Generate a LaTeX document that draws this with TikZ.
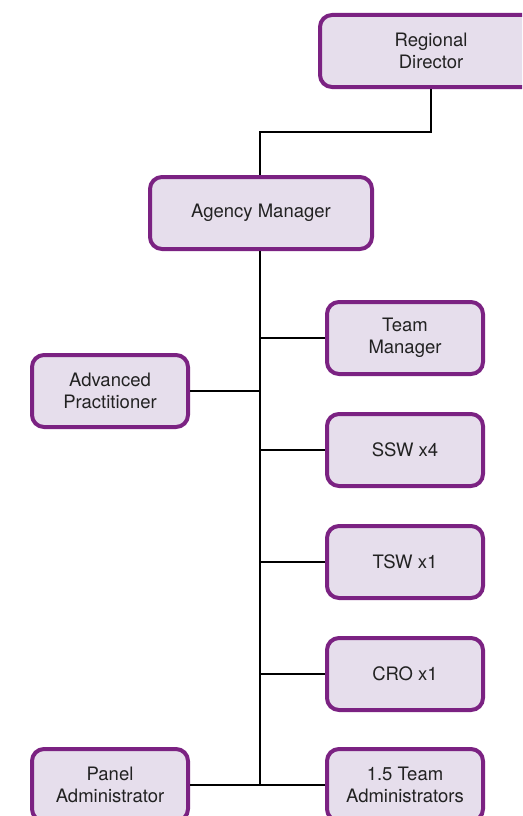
\documentclass[tikz,border=0pt]{standalone}
\usepackage{fontspec}
\setmainfont{TeX Gyre Heros}
\definecolor{boxborder}{HTML}{7B2282}
\definecolor{boxfill}{HTML}{E6DEEC}
\definecolor{txt}{HTML}{222222}
\begin{document}
\begin{tikzpicture}[x=1pt,y=1pt,
  orgbox/.style={draw=boxborder, fill=boxfill, line width=4pt, rounded corners=12pt,
    minimum height=72pt, align=center, text=txt, inner sep=0pt,
    font=\fontsize{18.5}{22}\selectfont},
  wide/.style={orgbox, minimum width=222pt},
  narrow/.style={orgbox, minimum width=156pt},
  conn/.style={line width=2pt, draw=black}]
\useasboundingbox (0,0) rectangle (522,-816);
\clip (0,0) rectangle (522,-816);
\node[wide] (rd) at (431,-51) {Regional\\Director};
\node[wide] (am) at (261,-213) {Agency Manager};
\node[narrow] (tm) at (405,-338) {Team\\Manager};
\node[narrow] (ap) at (110,-391) {Advanced\\Practitioner};
\node[narrow] (ssw) at (405,-450) {SSW x4};
\node[narrow] (tsw) at (405,-562) {TSW x1};
\node[narrow] (cro) at (405,-674) {CRO x1};
\node[narrow] (pa) at (110,-785) {Panel\\Administrator};
\node[narrow] (ta) at (405,-785) {1.5 Team\\Administrators};
\coordinate (j) at (260,-132);
\coordinate (bot) at (260,-785);
\draw[conn] (rd.south) |- (j) -- (j |- am.north);
\draw[conn] (j |- am.south) -- (bot);
\draw[conn] (tm.west) -- (tm.west -| j);
\draw[conn] (ap.east) -- (ap.east -| j);
\draw[conn] (ssw.west) -- (ssw.west -| j);
\draw[conn] (tsw.west) -- (tsw.west -| j);
\draw[conn] (cro.west) -- (cro.west -| j);
\draw[conn] (pa.east) -- (ta.west);
\end{tikzpicture}
\end{document}
